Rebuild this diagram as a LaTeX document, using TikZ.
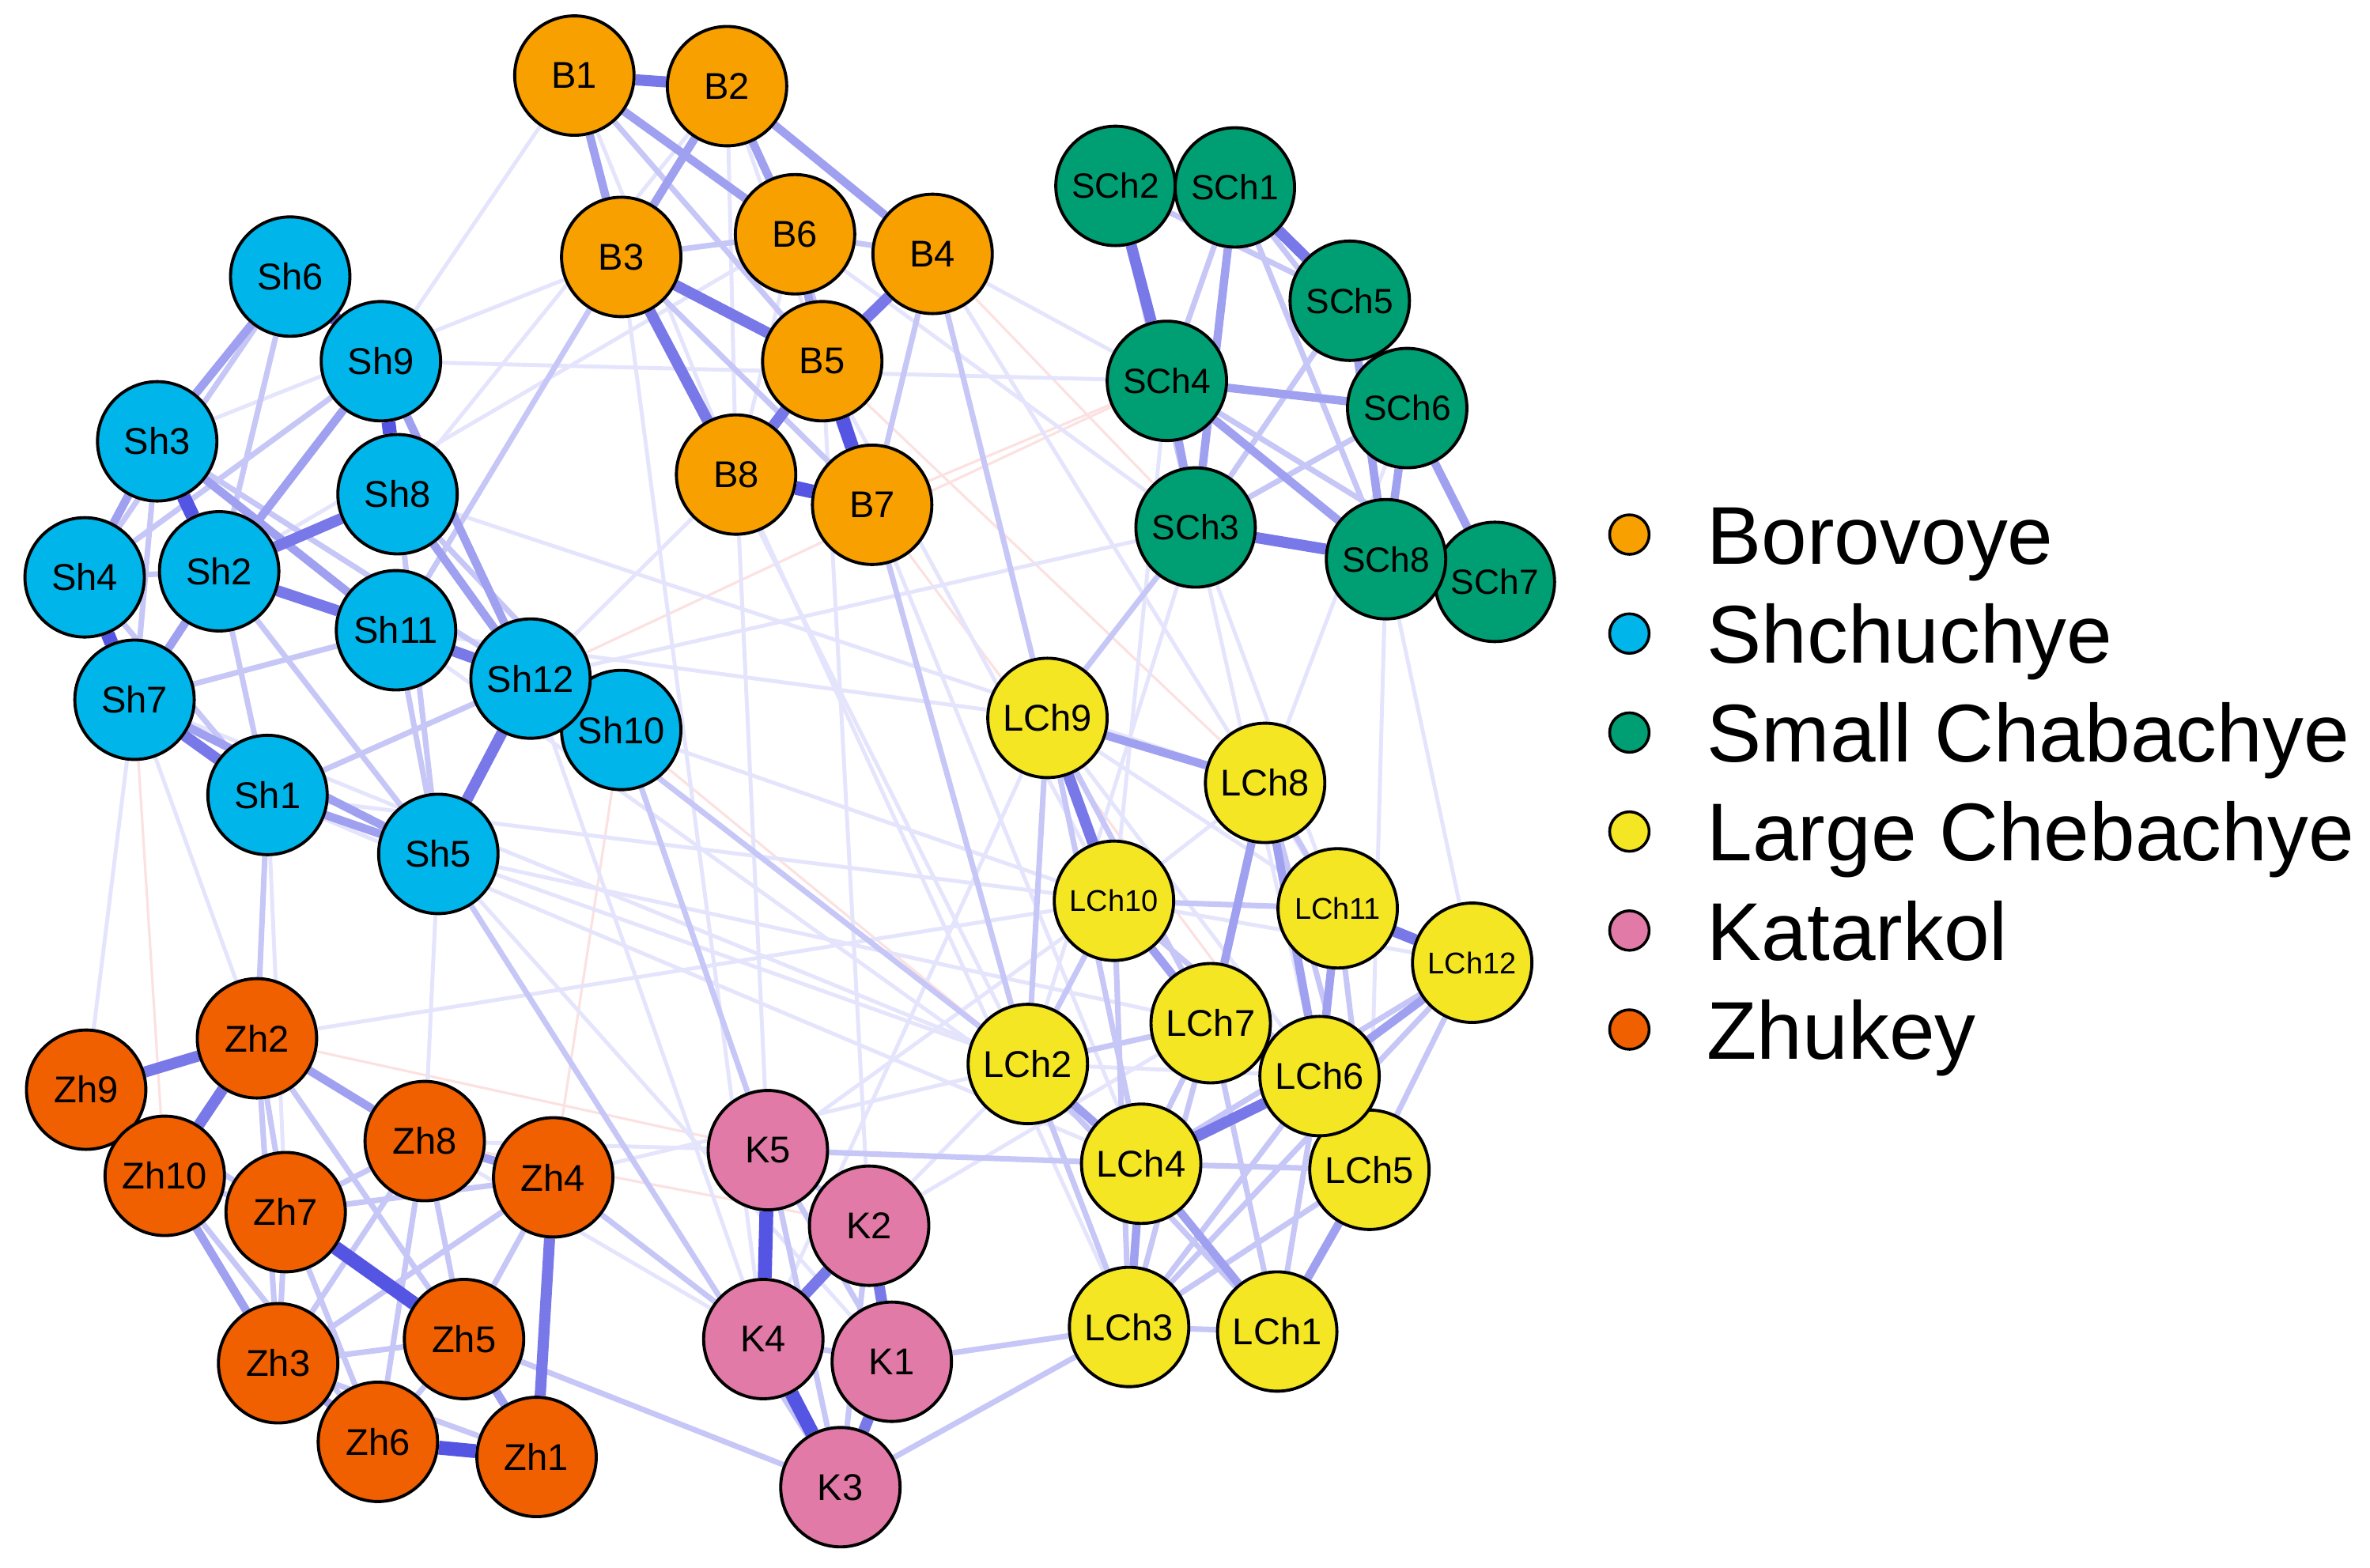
\documentclass[tikz,border=0pt]{standalone}
\usepackage{fontspec}
\setmainfont{Liberation Sans}
\usetikzlibrary{backgrounds}

\definecolor{boro}{RGB}{247,160,0}
\definecolor{shch}{RGB}{0,181,234}
\definecolor{smch}{RGB}{0,158,115}
\definecolor{lgch}{RGB}{245,230,35}
\definecolor{kata}{RGB}{226,122,168}
\definecolor{zhuk}{RGB}{240,95,0}

\begin{document}
\begin{tikzpicture}[
        x=0.019113cm, y=-0.019113cm, % пиксели исходного рисунка
        cell/.style={circle, draw=black, line width=1.1pt, minimum size=1.51cm, inner sep=0pt,
                font=\fontsize{13.4}{15}\selectfont},
        smallcell/.style={cell, font=\fontsize{10.8}{12}\selectfont},
        midcell/.style={cell, font=\fontsize{12.6}{14}\selectfont},
        dot/.style={circle, draw=black, line width=1pt, minimum size=0.5cm, inner sep=0pt},
        legtext/.style={inner sep=0pt, anchor=base west, font=\fontsize{29.5}{32}\selectfont},
        topbond/.style={draw={rgb,255:red,85;green,85;blue,228}, line width=5pt},
        strongbond/.style={draw={rgb,255:red,120;green,120;blue,232}, line width=4pt},
        midbond/.style={draw={rgb,255:red,160;green,160;blue,240}, line width=3pt},
        weakbond/.style={draw={rgb,255:red,198;green,198;blue,247}, line width=2pt},
        faintbond/.style={draw={rgb,255:red,228;green,228;blue,252}, line width=1.4pt},
        negbond/.style={draw={rgb,255:red,252;green,225;blue,225}, line width=0.9pt},
    ]
    \useasboundingbox (0,0) rectangle (1568,1037);

    % Borovoye
    \node[cell, fill=boro] (B1) at (380,50) {B1};
    \node[cell, fill=boro] (B2) at (481,57) {B2};
    \node[cell, fill=boro] (B3) at (411,170) {B3};
    \node[cell, fill=boro] (B6) at (526,155) {B6};
    \node[cell, fill=boro] (B4) at (617,168) {B4};
    \node[cell, fill=boro] (B5) at (544,239) {B5};
    \node[cell, fill=boro] (B8) at (487,314) {B8};
    \node[cell, fill=boro] (B7) at (577,334) {B7};

    % Shchuchye
    \node[cell, fill=shch] (Sh6) at (192,183) {Sh6};
    \node[cell, fill=shch] (Sh9) at (252,239) {Sh9};
    \node[cell, fill=shch] (Sh3) at (104,292) {Sh3};
    \node[cell, fill=shch] (Sh8) at (263,327) {Sh8};
    \node[cell, fill=shch] (Sh4) at (56,382) {Sh4};
    \node[cell, fill=shch] (Sh2) at (145,378) {Sh2};
    \node[cell, fill=shch] (Sh11) at (262,417) {Sh11};
    \node[cell, fill=shch] (Sh10) at (411,483) {Sh10};
    \node[cell, fill=shch] (Sh12) at (351,449) {Sh12};
    \node[cell, fill=shch] (Sh7) at (89,463) {Sh7};
    \node[cell, fill=shch] (Sh1) at (177,526) {Sh1};
    \node[cell, fill=shch] (Sh5) at (290,565) {Sh5};

    % Small Chabachye
    \node[midcell, fill=smch] (SCh2) at (738,123) {SCh2};
    \node[midcell, fill=smch] (SCh1) at (817,124) {SCh1};
    \node[midcell, fill=smch] (SCh5) at (893,199) {SCh5};
    \node[midcell, fill=smch] (SCh4) at (772,252) {SCh4};
    \node[midcell, fill=smch] (SCh6) at (931,270) {SCh6};
    \node[midcell, fill=smch] (SCh3) at (791,349) {SCh3};
    \node[midcell, fill=smch] (SCh7) at (989,385) {SCh7};
    \node[midcell, fill=smch] (SCh8) at (917,370) {SCh8};

    % Large Chebachye
    \node[cell, fill=lgch] (LCh9) at (693,475) {LCh9};
    \node[cell, fill=lgch] (LCh8) at (837,518) {LCh8};
    \node[smallcell, fill=lgch] (LCh10) at (737,596) {LCh10};
    \node[smallcell, fill=lgch] (LCh12) at (974,637) {LCh12};
    \node[smallcell, fill=lgch] (LCh11) at (885,601) {LCh11};
    \node[cell, fill=lgch] (LCh2) at (680,704) {LCh2};
    \node[cell, fill=lgch] (LCh7) at (801,677) {LCh7};
    \node[cell, fill=lgch] (LCh5) at (906,774) {LCh5};
    \node[cell, fill=lgch] (LCh6) at (873,712) {LCh6};
    \node[cell, fill=lgch] (LCh4) at (755,770) {LCh4};
    \node[cell, fill=lgch] (LCh3) at (747,878) {LCh3};
    \node[cell, fill=lgch] (LCh1) at (845,881) {LCh1};

    % Zhukey
    \node[cell, fill=zhuk] (Zh9) at (57,721) {Zh9};
    \node[cell, fill=zhuk] (Zh2) at (170,687) {Zh2};
    \node[cell, fill=zhuk] (Zh10) at (109,778) {Zh10};
    \node[cell, fill=zhuk] (Zh8) at (281,755) {Zh8};
    \node[cell, fill=zhuk] (Zh7) at (189,802) {Zh7};
    \node[cell, fill=zhuk] (Zh4) at (366,779) {Zh4};
    \node[cell, fill=zhuk] (Zh5) at (307,886) {Zh5};
    \node[cell, fill=zhuk] (Zh3) at (184,902) {Zh3};
    \node[cell, fill=zhuk] (Zh6) at (250,954) {Zh6};
    \node[cell, fill=zhuk] (Zh1) at (355,964) {Zh1};

    % Katarkol
    \node[cell, fill=kata] (K5) at (508,761) {K5};
    \node[cell, fill=kata] (K2) at (575,811) {K2};
    \node[cell, fill=kata] (K4) at (505,886) {K4};
    \node[cell, fill=kata] (K1) at (590,901) {K1};
    \node[cell, fill=kata] (K3) at (556,984) {K3};

    % связи
    \begin{pgfonlayer}{background}
        \foreach \a/\b in {Sh10/LCh2, B4/SCh3, Zh2/K5, B7/SCh4, Sh7/Zh10, B5/LCh8, Zh4/Sh10,
                B7/LCh5, SCh4/Sh12, Zh8/K2}
        \draw[negbond] (\a) -- (\b);
        \foreach \a/\b in {B2/B5, B1/B8, B6/B8, B2/B8, B1/Sh9, B3/Sh3, B8/Sh12, B6/Sh2, B2/Sh8,
                B3/LCh2, B5/LCh10, B7/LCh4, B8/K5, B5/K2, B4/SCh4, B6/SCh3, B4/LCh11,
                Sh12/K4, Sh11/LCh9, Sh10/LCh10, Sh5/LCh7, Sh1/LCh4, Sh7/LCh2, Sh8/LCh8,
                Sh9/SCh4, Sh12/SCh3, Sh7/Zh9, Sh5/Zh8, Sh1/Zh7, SCh3/LCh11, SCh4/LCh10,
                SCh8/LCh12, SCh6/LCh8, SCh3/LCh6, SCh8/LCh5, K2/LCh2, K5/LCh10, K5/Zh8,
                K4/LCh9, K2/LCh7, Zh4/LCh2, Zh2/LCh10, Zh8/K4, Sh5/LCh2, Sh1/LCh10,
                Sh11/LCh4, B8/LCh3, B3/K4, SCh3/LCh2, Sh5/K1, Zh2/Sh7,
                LCh9/LCh11, LCh10/LCh12, LCh9/LCh6, LCh2/LCh6, LCh8/LCh10}
        \draw[faintbond] (\a) -- (\b);
        \foreach \a/\b in {B3/B7, B3/B6, B6/B4, B4/B7, B1/B5, B6/B7,
                Sh9/Sh4, Sh6/Sh2, Sh3/Sh12, Sh4/Sh2, Sh4/Sh1, Sh2/Sh1, Sh8/Sh10, Sh11/Sh5,
                Sh1/Sh12, Sh6/Sh4, Sh7/Sh11, Sh8/Sh5, Sh3/Sh7, Sh2/Sh5,
                SCh1/SCh4, SCh1/SCh6, SCh5/SCh3, SCh2/SCh3, SCh4/SCh7, SCh1/SCh8, SCh2/SCh5,
                SCh3/SCh6, SCh3/SCh7,
                LCh9/LCh2, LCh9/LCh4, LCh9/LCh7, LCh8/LCh11, LCh10/LCh2, LCh10/LCh11,
                LCh10/LCh3, LCh11/LCh5, LCh12/LCh4, LCh12/LCh3, LCh7/LCh2, LCh7/LCh4,
                LCh2/LCh3, LCh2/LCh1, LCh6/LCh3, LCh6/LCh1, LCh4/LCh5, LCh5/LCh3, LCh3/LCh1,
                LCh7/LCh1, LCh7/LCh3, LCh12/LCh5, LCh8/LCh5, LCh10/LCh6,
                Zh2/Zh5, Zh2/Zh3, Zh2/Zh7, Zh10/Zh7, Zh10/Zh6, Zh7/Zh8, Zh7/Zh3, Zh7/Zh6,
                Zh7/Zh4, Zh8/Zh3, Zh8/Zh6, Zh4/Zh3, Zh4/Zh5, Zh3/Zh5, Zh3/Zh1, Zh9/Zh7,
                Zh8/Zh5, Zh6/Zh5,
                K5/K2, K5/K1, K5/K3, K4/K1, K2/K3,
                B4/LCh9, Sh10/K5, Sh5/K3, Sh1/Zh2, K1/LCh3, K3/LCh3, K5/LCh4, SCh3/LCh9,
                Zh5/K3, Zh4/K4, B7/LCh2, B3/Sh11, Sh12/LCh2}
        \draw[weakbond] (\a) -- (\b);
        \foreach \a/\b in {B2/B3, B2/B6, B2/B4, B1/B6, B6/B5, B1/B3,
                Sh6/Sh3, Sh3/Sh4, Sh9/Sh2, Sh9/Sh12, Sh8/Sh12, Sh2/Sh7, Sh1/Sh5, Sh3/Sh11, Sh7/Sh5,
                SCh1/SCh3, SCh4/SCh6, SCh4/SCh3, SCh4/SCh8, SCh6/SCh8, SCh6/SCh7, SCh5/SCh8,
                LCh9/LCh8, LCh8/LCh7, LCh8/LCh6, LCh10/LCh7, LCh11/LCh6, LCh12/LCh6,
                LCh2/LCh4, LCh4/LCh3, LCh4/LCh1, LCh5/LCh1,
                Zh2/Zh8, Zh10/Zh3, Zh5/Zh1, Zh3/Zh6, Zh8/Zh4}
        \draw[midbond] (\a) -- (\b);
        \foreach \a/\b in {B1/B2, B4/B5, B3/B5, B3/B8, B5/B8,
                Sh2/Sh8, Sh2/Sh11, Sh11/Sh12, Sh12/Sh5, Sh7/Sh1,
                SCh3/SCh8, SCh2/SCh4, SCh1/SCh5,
                LCh9/LCh10, LCh11/LCh12, LCh6/LCh4,
                Zh9/Zh2, Zh2/Zh10, Zh4/Zh1,
                K2/K4, K2/K1, K1/K3}
        \draw[strongbond] (\a) -- (\b);
        \foreach \a/\b in {B5/B7, B8/B7, Sh6/Sh9, Sh9/Sh8, Sh3/Sh2, Sh4/Sh7,
                Zh7/Zh5, Zh6/Zh1, K4/K3, K5/K4}
        \draw[topbond] (\a) -- (\b);
    \end{pgfonlayer}

    % легенда
    \foreach \name/\col [count=\i from 0] in {Borovoye/boro, Shchuchye/shch, Small Chabachye/smch,
            Large Chebachye/lgch, Katarkol/kata, Zhukey/zhuk} {
        \node[dot, fill=\col] (dot\i) at (1078,{353.7+65.5*\i}) {};
        \node[legtext] (lab\i) at (1129,{373.2+65.5*\i}) {\name};
    }
\end{tikzpicture}
\end{document}
